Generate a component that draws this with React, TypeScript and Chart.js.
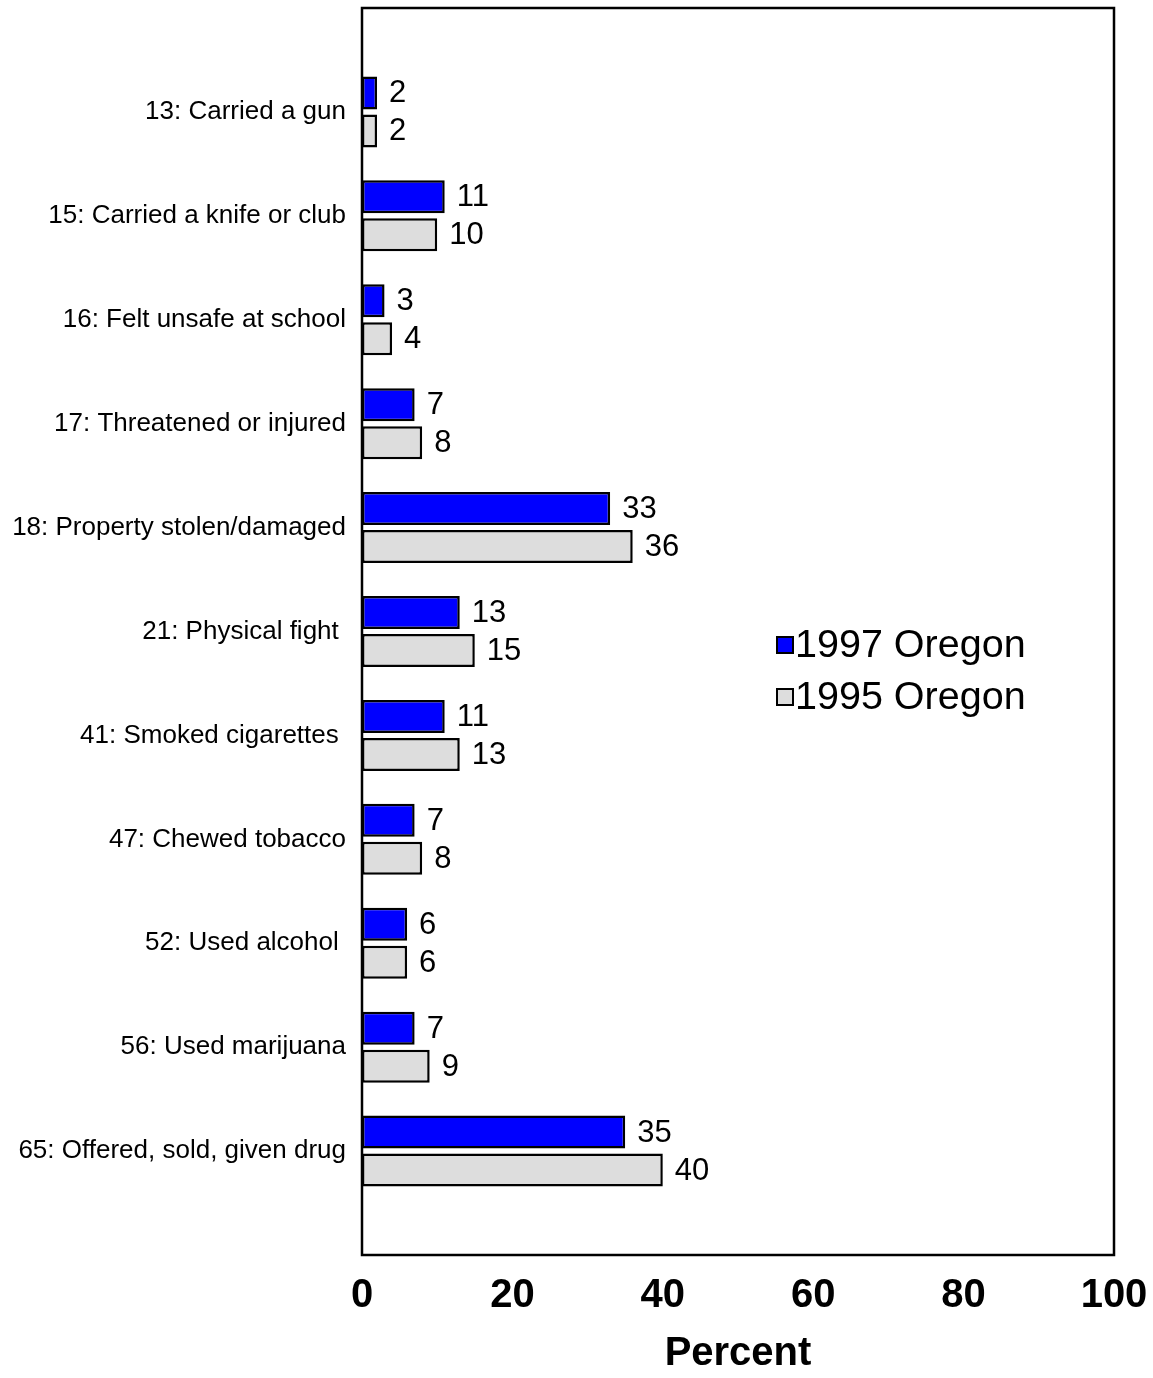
import React, { useEffect, useRef } from 'react';
import { Chart, registerables } from 'chart.js';

Chart.register(...registerables);

const categories = [
  '13: Carried a gun',
  '15: Carried a knife or club',
  '16: Felt unsafe at school',
  '17: Threatened or injured',
  '18: Property stolen/damaged',
  '21: Physical fight ',
  '41: Smoked cigarettes ',
  '47: Chewed tobacco',
  '52: Used alcohol ',
  '56: Used marijuana',
  '65: Offered, sold, given drug',
];
const values1997 = [2, 11, 3, 7, 33, 13, 11, 7, 6, 7, 35];
const values1995 = [2, 10, 4, 8, 36, 15, 13, 8, 6, 9, 40];
const seriesLabels = ['1997 Oregon', '1995 Oregon'];
const seriesColors = ['#0000FF', '#DDDDDD'];
const xTicks = [0, 20, 40, 60, 80, 100];

const FONT = "'Liberation Sans', Arial, Helvetica, sans-serif";

export default function App() {
  const ref = useRef<HTMLCanvasElement | null>(null);

  useEffect(() => {
    document.body.style.margin = '0';
    const canvas = ref.current;
    if (!canvas) return;

    const labels = ['', ...categories, ''];
    const pad = (arr: number[]) => [null, ...arr, null];

    const framePlugin = {
      id: 'frame',
      afterDatasetsDraw(chart: any) {
        const { ctx, chartArea } = chart;
        ctx.save();
        ctx.strokeStyle = '#000';
        ctx.lineWidth = 2.5;
        ctx.strokeRect(chartArea.left, chartArea.top, chartArea.right - chartArea.left, chartArea.bottom - chartArea.top);
        ctx.restore();
      },
    };

    const valueLabelPlugin = {
      id: 'valueLabels',
      afterDatasetsDraw(chart: any) {
        const { ctx } = chart;
        ctx.save();
        ctx.font = `31px ${FONT}`;
        ctx.fillStyle = '#000';
        ctx.textAlign = 'left';
        ctx.textBaseline = 'middle';
        chart.data.datasets.forEach((ds: any, di: number) => {
          const meta = chart.getDatasetMeta(di);
          meta.data.forEach((el: any, i: number) => {
            const v = ds.data[i];
            if (v === null || v === undefined) return;
            ctx.fillText(String(v), el.x + 12, el.y + 1);
          });
        });
        ctx.restore();
      },
    };

    const legendPlugin = {
      id: 'customLegend',
      afterDraw(chart: any) {
        const { ctx } = chart;
        ctx.save();
        ctx.font = `39.5px ${FONT}`;
        ctx.textAlign = 'left';
        ctx.textBaseline = 'middle';
        const x0 = 777;
        const ys = [645, 697];
        chart.data.datasets.forEach((ds: any, di: number) => {
          const y = ys[di];
          ctx.fillStyle = ds.backgroundColor;
          ctx.fillRect(x0, y - 8, 16, 16);
          ctx.strokeStyle = '#000';
          ctx.lineWidth = 2;
          ctx.strokeRect(x0, y - 8, 16, 16);
          ctx.fillStyle = '#000';
          ctx.fillText(ds.label, x0 + 18, y + 1);
        });
        ctx.restore();
      },
    };

    const chart = new Chart(canvas, {
      type: 'bar',
      data: {
        labels,
        datasets: [
          {
            label: seriesLabels[0],
            data: pad(values1997) as any,
            backgroundColor: seriesColors[0],
            borderColor: '#000',
            borderWidth: 2.5,
            borderSkipped: false,
            barPercentage: 0.868,
            categoryPercentage: 0.731,
          },
          {
            label: seriesLabels[1],
            data: pad(values1995) as any,
            backgroundColor: seriesColors[1],
            borderColor: '#000',
            borderWidth: 2.5,
            borderSkipped: false,
            barPercentage: 0.868,
            categoryPercentage: 0.731,
          },
        ],
      },
      options: {
        indexAxis: 'y',
        responsive: false,
        animation: false,
        layout: { padding: { top: 8, right: 39, left: 0, bottom: 0 } },
        plugins: {
          legend: { display: false },
          tooltip: { enabled: false },
        },
        scales: {
          x: {
            type: 'linear',
            position: 'bottom',
            min: 0,
            max: 100,
            afterBuildTicks: (s: any) => {
              s.ticks = xTicks.map((v) => ({ value: v }));
            },
            ticks: {
              font: { family: FONT, size: 40, weight: 'bold' },
              color: '#000',
              padding: 9,
              maxRotation: 0,
            },
            grid: { display: false },
            border: { display: false },
            title: {
              display: true,
              text: 'Percent',
              color: '#000',
              font: { family: FONT, size: 40, weight: 'bold' },
              padding: { top: 0, bottom: 0 },
            },
            afterFit: (s: any) => {
              s.height = 123;
              s.paddingLeft = 0;
              s.paddingRight = 0;
            },
          },
          y: {
            type: 'category',
            offset: false,
            ticks: {
              font: { family: FONT, size: 26 },
              color: '#000',
              padding: 8,
              autoSkip: false,
            },
            grid: { display: false },
            border: { display: false },
            afterFit: (s: any) => {
              s.width = 362;
              s.paddingTop = 0;
              s.paddingBottom = 0;
            },
          },
        },
      } as any,
      plugins: [framePlugin, valueLabelPlugin, legendPlugin],
    });

    return () => chart.destroy();
  }, []);

  return <canvas ref={ref} width={1153} height={1378} style={{ display: 'block' }} />;
}
